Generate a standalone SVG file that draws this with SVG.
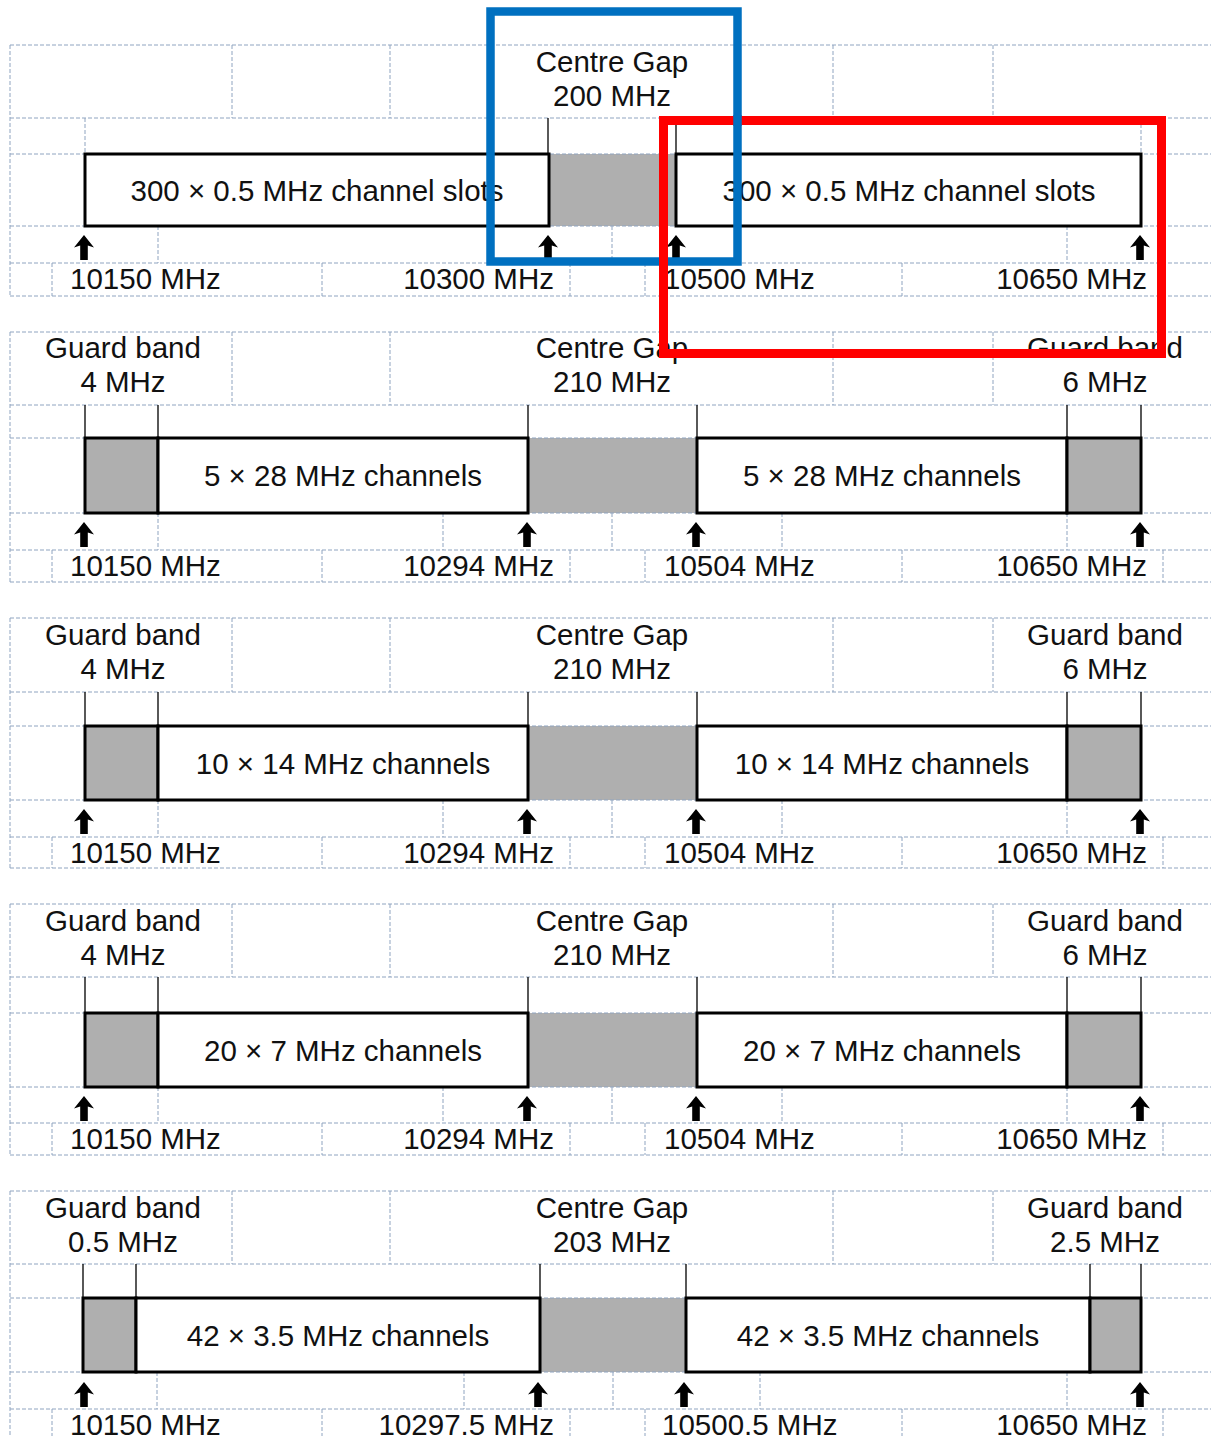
<svg xmlns="http://www.w3.org/2000/svg" xmlns:xlink="http://www.w3.org/1999/xlink" width="1211" height="1436" viewBox="0 0 1211 1436">
<style>
.grid{stroke:#8fa4c0;stroke-width:1;stroke-dasharray:4 2;fill:none}
.box{fill:#fff;stroke:#000;stroke-width:3}
.guard{fill:#afafaf;stroke:#000;stroke-width:3}
.gap{fill:#afafaf}
.tick{stroke:#000;stroke-width:1.3}
.t{font-family:"Liberation Sans",Arial,sans-serif;font-size:29.5px;fill:#111}
.m{text-anchor:middle}
.e{text-anchor:end}
.arr{fill:#000}
</style>
<defs>
<path id="arr" d="M0,0 L10,12.5 L3.8,10.5 L3.8,25 L-3.8,25 L-3.8,10.5 L-10,12.5 Z"/>
</defs>
<rect width="1211" height="1436" fill="#fff"/>

<!-- Panel 1 -->
<g id="panel1">
<rect class="gap" x="549" y="154" width="127" height="72"/>
<path class="grid" d="M10,45H1211M10,118H1211M10,154H1211M10,226H1211M10,263H1211M10,296H1211
M10,45V296M232,45V118M390,45V118M833,45V118M993,45V118
M85,118V154M1141,118V154
M158,226V263M612,226V263M1067,226V263
M52,263V296M322,263V296M570,263V296M645,263V296M902,263V296M1163,263V296"/>
<line class="tick" x1="548" y1="118" x2="548" y2="154"/>
<line class="tick" x1="676" y1="118" x2="676" y2="154"/>
<rect class="box" x="85" y="154" width="464" height="72"/>
<rect class="box" x="676" y="154" width="465" height="72"/>
<text class="t m" x="612" y="72">Centre Gap</text>
<text class="t m" x="612" y="106">200 MHz</text>
<text class="t m" x="317" y="200.5">300 × 0.5 MHz channel slots</text>
<text class="t m" x="909" y="200.5">300 × 0.5 MHz channel slots</text>
<use xlink:href="#arr" class="arr" x="84" y="235"/>
<use xlink:href="#arr" class="arr" x="548" y="235"/>
<use xlink:href="#arr" class="arr" x="676" y="235"/>
<use xlink:href="#arr" class="arr" x="1140" y="235"/>
<text class="t" x="70" y="289">10150 MHz</text>
<text class="t e" x="554" y="289">10300 MHz</text>
<text class="t" x="664" y="289">10500 MHz</text>
<text class="t e" x="1147" y="289">10650 MHz</text>
</g>

<!-- Panel 2 -->
<g id="panel2">
<rect class="gap" x="528" y="438" width="169" height="75"/>
<path class="grid" d="M10,332H1211M10,405H1211M10,438H1211M10,513H1211M10,550H1211M10,582H1211
M10,332V582M232,332V405M390,332V405M833,332V405M993,332V405
M158,513V550M443,513V550M612,513V550M782,513V550M1067,513V550
M52,550V582M322,550V582M570,550V582M645,550V582M902,550V582M1163,550V582"/>
<path class="tick" d="M85,405V438M158,405V438M528,405V438M697,405V438M1067,405V438M1141,405V438"/>
<rect class="guard" x="85" y="438" width="73" height="75"/>
<rect class="box" x="158" y="438" width="370" height="75"/>
<rect class="box" x="697" y="438" width="370" height="75"/>
<rect class="guard" x="1067" y="438" width="74" height="75"/>
<text class="t m" x="123" y="358">Guard band</text>
<text class="t m" x="123" y="392">4 MHz</text>
<text class="t m" x="612" y="358">Centre Gap</text>
<text class="t m" x="612" y="392">210 MHz</text>
<text class="t m" x="1105" y="358">Guard band</text>
<text class="t m" x="1105" y="392">6 MHz</text>
<text class="t m" x="343" y="486">5 × 28 MHz channels</text>
<text class="t m" x="882" y="486">5 × 28 MHz channels</text>
<use xlink:href="#arr" class="arr" x="84" y="522"/>
<use xlink:href="#arr" class="arr" x="527" y="522"/>
<use xlink:href="#arr" class="arr" x="696" y="522"/>
<use xlink:href="#arr" class="arr" x="1140" y="522"/>
<text class="t" x="70" y="576">10150 MHz</text>
<text class="t e" x="554" y="576">10294 MHz</text>
<text class="t" x="664" y="576">10504 MHz</text>
<text class="t e" x="1147" y="576">10650 MHz</text>
</g>

<!-- Panel 3 -->
<g id="panel3">
<rect class="gap" x="528" y="726" width="169" height="74"/>
<path class="grid" d="M10,618H1211M10,692H1211M10,726H1211M10,800H1211M10,837H1211M10,868H1211
M10,618V868M232,618V692M390,618V692M833,618V692M993,618V692
M158,800V837M443,800V837M612,800V837M782,800V837M1067,800V837
M52,837V868M322,837V868M570,837V868M645,837V868M902,837V868M1163,837V868"/>
<path class="tick" d="M85,692V726M158,692V726M528,692V726M697,692V726M1067,692V726M1141,692V726"/>
<rect class="guard" x="85" y="726" width="73" height="74"/>
<rect class="box" x="158" y="726" width="370" height="74"/>
<rect class="box" x="697" y="726" width="370" height="74"/>
<rect class="guard" x="1067" y="726" width="74" height="74"/>
<text class="t m" x="123" y="645">Guard band</text>
<text class="t m" x="123" y="679">4 MHz</text>
<text class="t m" x="612" y="645">Centre Gap</text>
<text class="t m" x="612" y="679">210 MHz</text>
<text class="t m" x="1105" y="645">Guard band</text>
<text class="t m" x="1105" y="679">6 MHz</text>
<text class="t m" x="343" y="773.5">10 × 14 MHz channels</text>
<text class="t m" x="882" y="773.5">10 × 14 MHz channels</text>
<use xlink:href="#arr" class="arr" x="84" y="809"/>
<use xlink:href="#arr" class="arr" x="527" y="809"/>
<use xlink:href="#arr" class="arr" x="696" y="809"/>
<use xlink:href="#arr" class="arr" x="1140" y="809"/>
<text class="t" x="70" y="863">10150 MHz</text>
<text class="t e" x="554" y="863">10294 MHz</text>
<text class="t" x="664" y="863">10504 MHz</text>
<text class="t e" x="1147" y="863">10650 MHz</text>
</g>

<!-- Panel 4 -->
<g id="panel4">
<rect class="gap" x="528" y="1013" width="169" height="74"/>
<path class="grid" d="M10,904H1211M10,977H1211M10,1013H1211M10,1087H1211M10,1123H1211M10,1155H1211
M10,904V1155M232,904V977M390,904V977M833,904V977M993,904V977
M158,1087V1123M443,1087V1123M612,1087V1123M782,1087V1123M1067,1087V1123
M52,1123V1155M322,1123V1155M570,1123V1155M645,1123V1155M902,1123V1155M1163,1123V1155"/>
<path class="tick" d="M85,977V1013M158,977V1013M528,977V1013M697,977V1013M1067,977V1013M1141,977V1013"/>
<rect class="guard" x="85" y="1013" width="73" height="74"/>
<rect class="box" x="158" y="1013" width="370" height="74"/>
<rect class="box" x="697" y="1013" width="370" height="74"/>
<rect class="guard" x="1067" y="1013" width="74" height="74"/>
<text class="t m" x="123" y="931">Guard band</text>
<text class="t m" x="123" y="965">4 MHz</text>
<text class="t m" x="612" y="931">Centre Gap</text>
<text class="t m" x="612" y="965">210 MHz</text>
<text class="t m" x="1105" y="931">Guard band</text>
<text class="t m" x="1105" y="965">6 MHz</text>
<text class="t m" x="343" y="1060.5">20 × 7 MHz channels</text>
<text class="t m" x="882" y="1060.5">20 × 7 MHz channels</text>
<use xlink:href="#arr" class="arr" x="84" y="1096"/>
<use xlink:href="#arr" class="arr" x="527" y="1096"/>
<use xlink:href="#arr" class="arr" x="696" y="1096"/>
<use xlink:href="#arr" class="arr" x="1140" y="1096"/>
<text class="t" x="70" y="1149">10150 MHz</text>
<text class="t e" x="554" y="1149">10294 MHz</text>
<text class="t" x="664" y="1149">10504 MHz</text>
<text class="t e" x="1147" y="1149">10650 MHz</text>
</g>

<!-- Panel 5 -->
<g id="panel5">
<rect class="gap" x="540" y="1298" width="146" height="74"/>
<path class="grid" d="M10,1191H1211M10,1264H1211M10,1298H1211M10,1372H1211M10,1409H1211M10,1441H1211
M10,1191V1441M232,1191V1264M390,1191V1264M833,1191V1264M993,1191V1264
M157,1372V1409M464,1372V1409M613,1372V1409M760,1372V1409M1067,1372V1409
M52,1409V1441M322,1409V1441M570,1409V1441M645,1409V1441M902,1409V1441M1163,1409V1441"/>
<path class="tick" d="M83,1264V1298M136,1264V1298M540,1264V1298M686,1264V1298M1090,1264V1298M1141,1264V1298"/>
<rect class="guard" x="83" y="1298" width="53" height="74"/>
<rect class="box" x="136" y="1298" width="404" height="74"/>
<rect class="box" x="686" y="1298" width="404" height="74"/>
<rect class="guard" x="1090" y="1298" width="51" height="74"/>
<text class="t m" x="123" y="1218">Guard band</text>
<text class="t m" x="123" y="1252">0.5 MHz</text>
<text class="t m" x="612" y="1218">Centre Gap</text>
<text class="t m" x="612" y="1252">203 MHz</text>
<text class="t m" x="1105" y="1218">Guard band</text>
<text class="t m" x="1105" y="1252">2.5 MHz</text>
<text class="t m" x="338" y="1345.5">42 × 3.5 MHz channels</text>
<text class="t m" x="888" y="1345.5">42 × 3.5 MHz channels</text>
<use xlink:href="#arr" class="arr" x="84" y="1382"/>
<use xlink:href="#arr" class="arr" x="538" y="1382"/>
<use xlink:href="#arr" class="arr" x="684" y="1382"/>
<use xlink:href="#arr" class="arr" x="1140" y="1382"/>
<text class="t" x="70" y="1435">10150 MHz</text>
<text class="t e" x="554" y="1435">10297.5 MHz</text>
<text class="t" x="662" y="1435">10500.5 MHz</text>
<text class="t e" x="1147" y="1435">10650 MHz</text>
</g>

<!-- Highlight frames -->
<g id="highlights">
<rect x="490.5" y="11.5" width="247" height="250" fill="none" stroke="#0070c0" stroke-width="8.5"/>
<rect x="663.5" y="120.5" width="498" height="233" fill="none" stroke="#ff0000" stroke-width="9"/>
<line x1="737.5" y1="115" x2="737.5" y2="126" stroke="#0070c0" stroke-width="8.5"/>
</g>
</svg>
